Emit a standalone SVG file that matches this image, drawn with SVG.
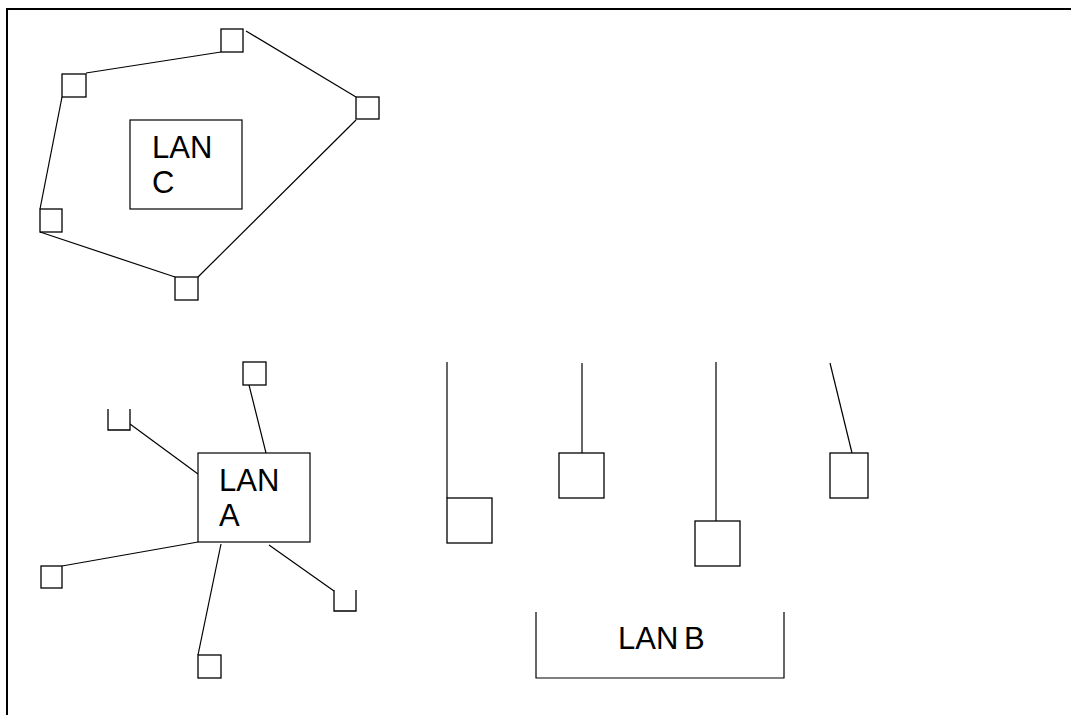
<svg xmlns="http://www.w3.org/2000/svg" width="1071" height="715" viewBox="0 0 1071 715">
<style>
.sq{fill:#fff;stroke:#000;stroke-width:1.3}
.box{fill:#fff;stroke:#000;stroke-width:1.2}
.ln{fill:none;stroke:#000;stroke-width:1.2}
.fr{fill:none;stroke:#000;stroke-width:2}
text{font-family:"Liberation Sans",Arial,sans-serif;font-size:31px;fill:#000}
</style>
<rect width="1071" height="715" fill="#fff"/>
<g id="frame"><path class="fr" d="M7,715 V9 H1071"/></g>
<g id="connectors">
<line class="ln" x1="86" y1="73" x2="221" y2="52"/>
<line class="ln" x1="246" y1="31" x2="356" y2="97"/>
<line class="ln" x1="356" y1="120" x2="198" y2="277"/>
<line class="ln" x1="175" y1="277" x2="40" y2="232"/>
<line class="ln" x1="40" y1="209" x2="62" y2="97"/>
<line class="ln" x1="249" y1="385" x2="266" y2="453"/>
<line class="ln" x1="130" y1="424" x2="198" y2="474"/>
<line class="ln" x1="62" y1="566" x2="198" y2="542"/>
<line class="ln" x1="221" y1="544" x2="198" y2="655"/>
<line class="ln" x1="269" y1="545" x2="334" y2="591"/>
<line class="ln" x1="447" y1="362" x2="447" y2="498"/>
<line class="ln" x1="582" y1="363" x2="582" y2="453"/>
<line class="ln" x1="716" y1="362" x2="716" y2="521"/>
<line class="ln" x1="830" y1="363" x2="852" y2="453"/>
</g>
<g id="lanC"><rect class="box" x="130" y="120" width="112" height="89"/><text x="152" y="158">LAN</text><text x="152" y="193">C</text></g>
<g id="c1"><rect class="sq" x="221" y="29" width="22" height="23"/></g>
<g id="c2"><rect class="sq" x="62" y="74" width="24" height="23"/></g>
<g id="c3"><rect class="sq" x="356" y="97" width="23" height="22"/></g>
<g id="c4"><rect class="sq" x="40" y="209" width="22" height="23"/></g>
<g id="c5"><rect class="sq" x="175" y="277" width="23" height="23"/></g>
<g id="lanA"><rect class="box" x="198" y="453" width="112" height="89"/><text x="219" y="491">LAN</text><text x="219" y="526">A</text></g>
<g id="a1"><rect class="sq" x="243" y="362" width="23" height="23"/></g>
<g id="a2"><path class="sq" d="M108,409 V430 H130 V409" fill="none"/></g>
<g id="a3"><rect class="sq" x="41" y="566" width="21" height="22"/></g>
<g id="a4"><rect class="sq" x="198" y="655" width="23" height="23"/></g>
<g id="a5"><path class="sq" d="M334,590 V611 H356 V590" fill="none"/></g>
<g id="lanB"><path class="ln" d="M536,612 V678 H784 V612"/><text x="618" y="649" word-spacing="-3">LAN B</text></g>
<g id="b1"><rect class="sq" x="447" y="498" width="45" height="45"/></g>
<g id="b2"><rect class="sq" x="559" y="453" width="45" height="45"/></g>
<g id="b3"><rect class="sq" x="695" y="521" width="45" height="45"/></g>
<g id="b4"><rect class="sq" x="830" y="453" width="38" height="45"/></g>
</svg>
